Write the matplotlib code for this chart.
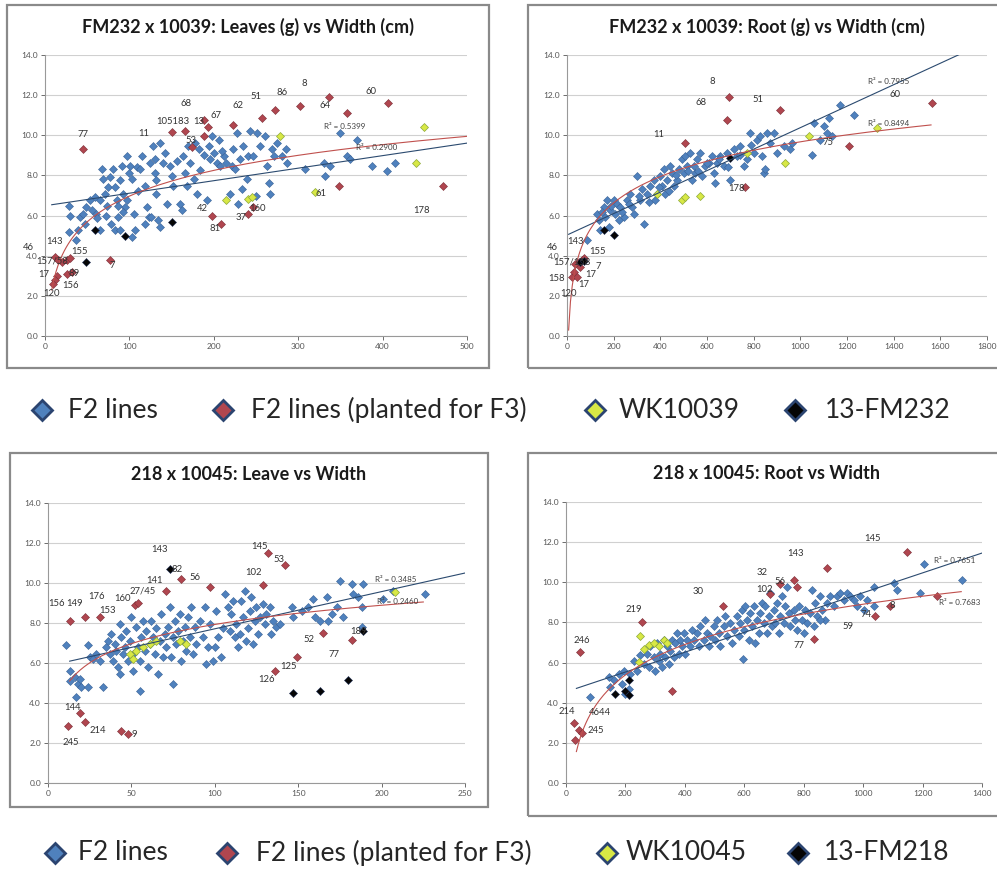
#!/usr/bin/env python3
"""four scatter panels: leaf / root weight vs width, two crosses"""

import matplotlib.pyplot as plt
import numpy as np
from matplotlib.lines import Line2D
from matplotlib.patches import Rectangle

# ---------------- panel 1: FM232 x 10039 leaves vs width ----------------
p1_blue_x = [28, 30, 28, 37, 39, 41, 45, 49, 47, 53, 59, 61, 65, 67, 69, 71, 73, 75, 77, 65,
             81, 83, 85, 87, 89, 91, 93, 95, 83, 89, 97, 99, 101, 103, 105, 107, 103, 109, 97,
             115, 113, 119, 121, 123, 126, 128, 130, 132, 134, 136, 130, 132, 136,
             140, 144, 148, 150, 152, 160, 162, 164, 166, 168, 170,
             172, 176, 180, 182, 184, 192, 194, 196, 198, 200, 204, 206,
             207, 212, 215, 219, 221, 223, 227, 229, 231, 233, 235, 239, 241,
             243, 247, 251, 255, 261, 263, 265, 267, 269, 271, 275, 281, 285, 287,
             308, 330, 332, 338, 350, 358, 361, 370, 387, 405, 415,
             56, 62, 72, 78, 86, 92, 110, 118, 125, 142, 156, 178, 188, 210, 225, 250]
p1_blue_y = [6.5, 6.0, 5.2, 4.8, 5.3, 5.95, 6.1, 6.45, 5.6, 6.8, 6.95, 6.1, 5.3, 8.3, 7.8, 7.1, 6.5, 7.4, 7.9, 6.8,
             8.3, 7.4, 6.8, 5.95, 7.75, 8.45, 7.1, 6.45, 5.3, 5.3, 8.95, 8.1, 8.45, 7.8, 6.1, 5.3, 4.95, 8.4, 6.8,
             8.95, 8.3, 7.45, 6.45, 5.95, 5.95, 9.45, 8.1, 7.1, 5.8, 5.45, 8.8, 7.75, 9.6,
             8.6, 6.6, 8.45, 7.95, 7.45, 6.6, 6.3, 8.95, 8.1, 7.45, 9.45,
             8.6, 7.8, 7.1, 9.3, 8.25, 6.8, 9.45, 8.8, 9.95, 9.1, 8.6, 9.75,
             8.45, 8.95, 8.6, 7.1, 8.45, 9.3, 10.1, 6.6, 8.8, 7.3, 9.45, 7.8, 8.95,
             10.2, 8.95, 10.1, 9.45, 9.95, 8.45, 7.6, 7.1, 9.3, 8.95, 9.6, 8.95, 9.3, 8.6,
             8.3, 8.6, 7.95, 8.45, 10.1, 8.95, 8.8, 9.75, 8.45, 8.2, 8.6,
             6.3, 5.9, 6.0, 5.6, 6.5, 6.2, 7.2, 5.6, 8.6, 9.1, 8.7, 9.6, 9.0, 9.2, 8.3, 7.0]
p1_red_x = [45, 150, 166, 188, 188, 193, 223, 257, 273, 302, 337, 407, 358, 348, 472,
            198, 209, 241, 247, 174, 77,
            12, 16, 20, 26, 30, 14, 12, 10, 26, 32]
p1_red_y = [9.3, 10.15, 10.2, 10.75, 9.95, 10.4, 10.5, 10.85, 11.25, 11.45, 11.9, 11.6, 11.1, 7.45, 7.45,
            6.0, 5.6, 6.1, 6.45, 9.4, 3.8,
            3.95, 3.8, 3.7, 3.8, 3.9, 3.0, 2.8, 2.6, 3.1, 3.2]
p1_yel_x = [279, 449, 440, 215, 241, 245, 320]
p1_yel_y = [9.95, 10.4, 8.6, 6.8, 6.85, 6.95, 7.15]
p1_blk_x = [59, 95, 151, 49]
p1_blk_y = [5.3, 5.0, 5.7, 3.7]
p1_lin = (6.49, 0.00624)          # intercept, slope
p1_log = (-1.55, 1.85)            # a + b ln(x)
p1_log_range = (8, 500)
p1_labels = [("77", 38, 9.9), ("11", 110, 9.95), ("105183", 132, 10.55), ("68", 160, 11.45),
             ("13", 176, 10.55), ("67", 196, 10.85), ("62", 222, 11.35), ("51", 244, 11.8),
             ("86", 274, 12.0), ("8", 304, 12.45), ("64", 325, 11.35), ("60", 380, 12.05),
             ("53", 166, 9.6), ("42", 180, 6.25), ("81", 195, 5.25), ("37", 226, 5.8),
             ("160", 242, 6.25), ("61", 320, 7.0), ("178", 436, 6.15), ("7", 76, 3.4),
             ("143", 2, 4.6), ("46", -26, 4.3), ("157/58", -10, 3.6), ("155", 31, 4.1),
             ("17", -8, 2.95), ("156", 20, 2.4), ("120", -2, 2.0), ("89", 28, 3.0)]
p1_r2 = [("R² = 0.5399", 330, 10.3), ("R² = 0.2900", 368, 9.25)]

# ---------------- panel 2: FM232 x 10039 root vs width ----------------
p2_blue_x = [86, 129, 136, 143, 157, 164, 171, 179, 186, 200, 207, 214, 221, 229, 243, 257,
             271, 279, 286, 300, 314, 321, 329, 343, 357, 371, 379, 386, 400, 407, 414, 421, 429,
             443, 450, 457, 471, 479, 493, 500, 507, 514, 529, 536, 543, 550, 557, 571, 579,
             593, 607, 621, 629, 636, 643, 657, 671, 686, 700, 714, 729, 743, 757, 771, 786,
             800, 814, 829, 836, 843, 850, 857, 871, 886, 900, 929, 957, 964,
             1050, 1057, 1100, 1114, 1121, 1136, 1171, 1229, 1086,
             150, 190, 235, 265, 310, 350, 395, 435, 465, 520, 560, 600, 650, 690, 740, 790]
p2_blue_y = [4.8, 6.1, 5.8, 5.3, 6.45, 5.95, 6.8, 5.45, 6.3, 6.8, 6.1, 6.6, 5.8, 6.45, 5.95, 6.8,
             7.1, 6.45, 6.1, 7.95, 6.8, 7.3, 5.6, 7.1, 7.45, 7.75, 6.8, 7.1, 7.95, 7.45, 8.3, 7.1, 7.75,
             8.45, 8.1, 7.45, 7.75, 8.3, 8.8, 8.1, 8.95, 8.45, 9.1, 7.75, 8.45, 8.1, 8.8, 9.1, 7.95,
             8.45, 8.6, 8.95, 8.1, 7.6, 8.6, 8.95, 8.45, 9.1, 7.75, 9.3, 8.95, 9.45, 8.45, 8.8, 10.1,
             9.1, 9.75, 9.95, 8.95, 8.1, 8.3, 10.1, 9.6, 10.1, 9.1, 9.45, 9.3, 9.6,
             9.0, 10.6, 10.45, 10.1, 10.85, 9.95, 11.5, 11.0, 9.75,
             6.2, 6.5, 6.2, 6.6, 7.0, 6.7, 7.4, 7.2, 8.0, 8.2, 8.2, 8.6, 8.8, 8.4, 9.0, 9.5]
p2_red_x = [693, 686, 911, 504, 1207, 1564, 764,
            21, 29, 43, 36, 50, 64, 71, 57]
p2_red_y = [11.9, 10.75, 11.25, 9.6, 9.45, 11.6, 7.4,
            2.95, 3.2, 2.95, 3.6, 3.7, 3.8, 3.9, 3.45]
p2_yel_x = [493, 507, 571, 386, 771, 936, 1036, 1329]
p2_yel_y = [6.8, 6.95, 7.0, 7.1, 9.1, 8.6, 9.95, 10.35]
p2_blk_x = [57, 71, 200, 157, 700]
p2_blk_y = [3.7, 3.75, 5.05, 5.3, 8.85]
p2_lin = (5.03, 0.00535)
p2_log = (-3.38, 1.89)
p2_log_range = (7, 1560)
p2_labels = [("8", 610, 12.55), ("68", 550, 11.5), ("51", 795, 11.65), ("11", 370, 9.9),
             ("60", 1380, 11.9), ("178", 690, 7.2), ("75", 1095, 9.5),
             ("143", 0, 4.6), ("46", -88, 4.3), ("157/158", -58, 3.55), ("155", 95, 4.1),
             ("7", 122, 3.35), ("17", 78, 2.95), ("17", 50, 2.45), ("158", -80, 2.75), ("120", -28, 2.0)]
p2_r2 = [("R² = 0.7955", 1290, 12.55), ("R² = 0.8494", 1290, 10.45)]

# ---------------- panel 3: 218 x 10045 leave vs width ----------------
p3_blue_x = [11, 13, 13, 16, 18, 17, 20, 19, 24, 24, 25, 27, 29, 33, 31,
             35, 36, 37, 38, 39, 40, 41, 42, 43, 43, 44, 45, 46, 47, 48, 49, 50, 51, 51, 53, 54, 55, 55,
             56, 57, 58, 59, 60, 61, 62,
             63, 64, 65, 66, 67, 68, 69, 70, 71, 72, 73, 74, 75, 75, 76, 77, 78, 79, 80, 81, 82, 83, 84,
             85, 86, 87, 88, 89, 91, 93, 94, 95, 96, 97, 99, 100, 101, 102, 104, 105,
             106, 108, 109, 110, 111, 112, 113, 114, 115, 116, 117, 118, 119, 120, 121, 122, 123, 124,
             125, 126, 127, 129, 130, 131, 133, 134, 135, 137, 139,
             146, 147, 152, 156, 159, 160, 163, 167, 168, 170, 173, 175, 177, 182, 183, 186, 188, 189,
             201, 207, 226, 188]
p3_blue_y = [6.9, 5.6, 5.1, 5.3, 4.95, 4.3, 4.8, 5.2, 6.9, 4.8, 6.3, 6.2, 6.45, 4.8, 6.1,
             6.8, 7.1, 6.45, 7.45, 6.1, 6.95, 6.6, 5.8, 7.95, 5.45, 7.3, 6.45, 6.8, 7.6, 6.1, 7.1, 8.3,
             6.45, 5.6, 7.8, 6.8, 6.1, 4.6, 7.3, 8.1, 6.6, 7.6, 5.8, 6.95, 8.1,
             7.3, 6.45, 7.75, 5.45, 7.1, 8.45, 6.3, 7.45, 6.8, 7.8, 8.8, 6.3, 7.3, 4.95, 8.1, 6.95, 7.6,
             8.45, 6.1, 7.1, 7.8, 6.6, 8.3, 7.3, 8.8, 6.45, 7.8, 6.95, 8.1, 7.3, 8.8, 5.95, 6.8, 7.95,
             6.1, 6.8, 8.6, 7.3, 6.3, 7.75,
             9.45, 8.8, 7.6, 8.45, 9.1, 7.3, 7.95, 6.8, 7.45, 9.1, 8.3, 9.6, 7.1, 7.75, 8.6, 9.3, 6.95,
             8.1, 8.8, 7.45, 8.3, 8.95, 7.95, 8.45, 8.8, 7.45, 8.1, 7.8, 7.95,
             8.8, 8.3, 8.6, 8.8, 9.2, 8.3, 8.1, 9.3, 8.1, 8.45, 8.8, 10.1, 8.3, 9.95, 9.45, 9.3, 8.8, 9.95,
             9.2, 9.6, 9.45, 7.8]
p3_red_x = [13, 22, 31, 52, 54, 71, 80, 97, 129, 132, 142, 165, 182, 149, 136,
            12, 19, 22, 44, 48]
p3_red_y = [8.1, 8.3, 8.3, 8.9, 9.0, 9.6, 10.2, 9.8, 9.9, 11.5, 10.9, 7.5, 7.15, 6.3, 5.6,
            2.85, 3.5, 3.05, 2.6, 2.45]
p3_yel_x = [49, 53, 57, 61, 65, 51, 79, 83, 208]
p3_yel_y = [6.45, 6.6, 6.8, 6.95, 7.1, 6.2, 7.1, 6.95, 9.55]
p3_blk_x = [147, 163, 180, 73, 189]
p3_blk_y = [4.5, 4.6, 5.15, 10.7, 7.6]
p3_lin = (5.85, 0.0186)
p3_log = (1.545, 1.386)
p3_log_range = (13, 225)
p3_labels = [("156", 0, 8.85), ("149", 11, 8.85), ("176", 24, 9.2), ("153", 31, 8.5),
             ("160", 40, 9.1), ("27/45", 49, 9.5), ("141", 59, 10.0), ("143", 62, 11.55),
             ("82", 74, 10.55), ("56", 85, 10.15), ("102", 118, 10.4), ("145", 122, 11.7),
             ("53", 135, 11.05), ("52", 153, 7.05), ("125", 139, 5.7), ("126", 126, 5.05),
             ("77", 168, 6.3), ("189", 181, 7.45), ("144", 10, 3.65), ("245", 9, 1.9),
             ("214", 25, 2.5), ("9", 50, 2.3)]
p3_r2 = [("R² = 0.3485", 196, 10.05), ("R² = 0.2460", 197, 8.95)]

# ---------------- panel 4: 218 x 10045 root vs width ----------------
p4_blue_x = [82, 144, 149, 160, 177, 189, 194, 200, 211, 216, 228, 240, 250, 261, 272, 278, 284,
             295, 301, 306, 312, 317, 323, 329, 334, 340, 345, 351, 357, 362, 368, 374, 379, 385,
             390, 396, 402, 407, 418, 424, 430, 441, 446, 452, 463, 469, 475, 480, 486, 497,
             503, 508, 514, 519, 531, 536, 542, 553, 559, 564, 575, 581, 587, 592, 598, 596, 603,
             609, 615, 620, 626, 632, 637, 643, 648, 654, 660, 665, 671, 676, 682, 688, 693, 699,
             704, 710, 716, 721, 727, 733, 738, 744, 749, 755,
             766, 772, 777, 783, 794, 800, 805, 811, 822, 828, 833, 839, 845, 856, 862, 873, 878,
             890, 901, 912, 923, 934, 946, 957, 968, 979, 991, 1002, 1013, 1035, 1035, 1103, 1114,
             1192, 1204, 1333, 856]
p4_blue_y = [4.3, 5.3, 4.8, 5.15, 5.45, 4.95, 5.6, 4.45, 4.7, 5.45, 6.1, 5.6, 6.4, 5.95, 6.45, 5.8, 6.8,
             6.3, 5.6, 6.95, 6.1, 6.45, 5.8, 7.1, 6.3, 6.8, 5.95, 6.6, 7.1, 6.3, 6.95, 7.45, 6.45, 7.1,
             6.8, 7.45, 6.45, 7.1, 6.8, 7.6, 7.1, 7.45, 6.8, 7.8, 7.1, 8.1, 7.45, 6.8, 7.3, 7.8,
             7.1, 8.1, 7.45, 6.8, 7.8, 8.3, 7.3, 7.95, 6.95, 7.6, 8.3, 7.3, 7.95, 8.6, 7.6, 6.2, 8.8,
             8.1, 7.1, 8.45, 7.8, 8.8, 6.95, 8.1, 7.45, 8.45, 8.95, 7.95, 8.8, 7.45, 8.3, 9.45, 7.8, 8.6,
             7.95, 8.95, 7.45, 8.3, 9.3, 7.95, 8.8, 9.75, 8.45, 7.8,
             8.6, 8.1, 7.6, 8.8, 8.1, 7.45, 8.6, 7.95, 8.45, 9.6, 7.8, 8.95, 8.3, 9.3, 8.6, 8.1, 8.95,
             9.3, 8.8, 9.3, 9.45, 9.1, 9.45, 9.3, 9.1, 8.8, 9.3, 8.6, 9.1, 9.75, 8.8, 9.95, 9.6,
             9.45, 10.9, 10.1, 8.1]
p4_red_x = [48, 256, 357, 528, 721, 688, 766, 777, 878, 833, 1041, 1091, 1148, 1248,
            26, 43, 54, 31]
p4_red_y = [6.55, 8.0, 4.6, 8.8, 9.9, 9.4, 10.1, 9.75, 10.7, 7.15, 8.3, 8.8, 11.5, 9.3,
            3.0, 2.65, 2.5, 2.15]
p4_yel_x = [261, 278, 295, 312, 329, 340, 245, 250]
p4_yel_y = [6.7, 6.85, 6.95, 6.8, 7.1, 6.95, 6.05, 7.3]
p4_blk_x = [166, 200, 211, 211]
p4_blk_y = [4.45, 4.6, 5.15, 4.4]
p4_lin = (4.54, 0.00494)
p4_log = (-6.22, 2.19)
p4_log_range = (35, 1330)
p4_labels = [("246", 26, 6.95), ("219", 200, 8.5), ("30", 425, 9.4), ("32", 640, 10.35),
             ("56", 700, 9.9), ("102", 640, 9.5), ("143", 745, 11.3), ("145", 1005, 12.05),
             ("8", 1088, 8.7), ("74", 990, 8.25), ("59", 930, 7.65), ("77", 765, 6.75),
             ("214", -25, 3.45), ("4644", 78, 3.4), ("245", 72, 2.5)]
p4_r2 = [("R² = 0.7651", 1240, 10.95), ("R² = 0.7683", 1255, 8.85)]

titles = ["FM232 x 10039: Leaves (g) vs Width (cm)", "FM232 x 10039: Root (g) vs Width (cm)",
          "218 x 10045: Leave vs Width", "218 x 10045: Root vs Width"]
legend_top = ["F2 lines", "F2 lines (planted for F3)", "WK10039", "13-FM232"]
legend_bottom = ["F2 lines", "F2 lines (planted for F3)", "WK10045", "13-FM218"]

BLUE, BLUE_E = "#4F81BD", "#3A6397"
RED, RED_E = "#B0464F", "#7A2E36"
YEL, YEL_E = "#D8E845", "#8CA83A"
BLK, BLK_E = "#050505", "#1F2F55"
FONT = "Lato"
W, H = 997, 873


def panel(ax, bx, by, rx, ry, yx, yy, kx, ky, lin, logp, log_range, labels, r2s, xmax, xstep):
    ax.plot(bx, by, "D", ms=4.2, mfc=BLUE, mec=BLUE_E, mew=0.4, zorder=3)
    ax.plot(rx, ry, "D", ms=4.2, mfc=RED, mec=RED_E, mew=0.4, zorder=4)
    ax.plot(yx, yy, "D", ms=4.5, mfc=YEL, mec=YEL_E, mew=0.5, zorder=4)
    ax.plot(kx, ky, "D", ms=4.2, mfc=BLK, mec=BLK_E, mew=0.4, zorder=4)

    # trend lines: linear for all lines, log for planted lines
    xl = np.array([log_range[0], xmax])
    ax.plot(xl, lin[0] + lin[1] * xl, color="#2B4A6F", lw=0.8, zorder=5)
    xs = np.linspace(log_range[0], log_range[1], 200)
    ax.plot(xs, logp[0] + logp[1] * np.log(xs), color="#C0504D", lw=0.8, zorder=5)

    for txt, x, y in labels:
        ax.text(x, y, txt, fontsize=6.8, color="#333333", family=FONT, zorder=6,
                clip_on=False)
    for txt, x, y in r2s:
        ax.text(x, y, txt, fontsize=5.8, color="#404040", family=FONT, zorder=6)

    ax.set_xlim(0, xmax)
    ax.set_ylim(0, 14)
    ax.set_xticks(np.arange(0, xmax + 1, xstep))
    ax.set_yticks(np.arange(0, 15, 2))
    ax.set_yticklabels([f"{v:.1f}" for v in np.arange(0, 15, 2)])
    ax.tick_params(labelsize=6, colors="#555555", length=3, width=0.6, pad=2)
    ax.grid(axis="y", color="#D0D0D0", lw=0.8)
    ax.set_axisbelow(True)
    for s in ("top", "right"):
        ax.spines[s].set_visible(False)
    for s in ("left", "bottom"):
        ax.spines[s].set_color("#999999")
        ax.spines[s].set_linewidth(0.8)
    for lab in ax.get_xticklabels() + ax.get_yticklabels():
        lab.set_family(FONT)


def legend_row(fig, names, y_px, marker_px, text_px):
    fills = [BLUE, RED, YEL, BLK]
    y = 1 - y_px / H
    for name, c, mx, tx in zip(names, fills, marker_px, text_px):
        fig.add_artist(Line2D([mx / W], [y], ls="", marker="D", ms=10, mfc=c,
                              mec="#2B4470", mew=2.0, transform=fig.transFigure))
        fig.text(tx / W, y, name, ha="left", va="center", fontsize=19,
                 family=FONT, color="#262626")


def main() -> None:
    fig = plt.figure(figsize=(W / 100, H / 100), dpi=100)

    # chart-area frames
    for x0, y0, w, h in [(0.007, 0.5785, 0.4835, 0.4158), (0.5296, 0.5785, 0.48, 0.4158),
                         (0.010, 0.0756, 0.4795, 0.4055), (0.5296, 0.0654, 0.48, 0.4157)]:
        fig.patches.append(Rectangle((x0, y0), w, h, transform=fig.transFigure,
                                     fill=False, ec="#8A8A8A", lw=1.6))

    ax1 = fig.add_axes([0.0451, 0.6151, 0.4233, 0.3219])
    ax2 = fig.add_axes([0.5687, 0.6151, 0.4213, 0.3219])
    ax3 = fig.add_axes([0.0481, 0.1031, 0.4183, 0.3207])
    ax4 = fig.add_axes([0.5677, 0.1031, 0.4173, 0.3219])

    panel(ax1, p1_blue_x, p1_blue_y, p1_red_x, p1_red_y, p1_yel_x, p1_yel_y, p1_blk_x, p1_blk_y,
          p1_lin, p1_log, p1_log_range, p1_labels, p1_r2, 500, 100)
    panel(ax2, p2_blue_x, p2_blue_y, p2_red_x, p2_red_y, p2_yel_x, p2_yel_y, p2_blk_x, p2_blk_y,
          p2_lin, p2_log, p2_log_range, p2_labels, p2_r2, 1800, 200)
    panel(ax3, p3_blue_x, p3_blue_y, p3_red_x, p3_red_y, p3_yel_x, p3_yel_y, p3_blk_x, p3_blk_y,
          p3_lin, p3_log, p3_log_range, p3_labels, p3_r2, 250, 50)
    panel(ax4, p4_blue_x, p4_blue_y, p4_red_x, p4_red_y, p4_yel_x, p4_yel_y, p4_blk_x, p4_blk_y,
          p4_lin, p4_log, p4_log_range, p4_labels, p4_r2, 1400, 200)

    for (x, y), t in zip([(0.249, 0.969), (0.769, 0.969), (0.249, 0.456), (0.769, 0.458)], titles):
        fig.text(x, y, t, ha="center", va="center", fontsize=13, weight="bold",
                 family=FONT, color="#1A1A1A")

    legend_row(fig, legend_top, 410, [42, 223, 595, 795], [68, 251, 619, 825])
    legend_row(fig, legend_bottom, 853, [55, 227, 607, 798], [78, 256, 626, 824])

    fig.savefig("out.png", dpi=100)


if __name__ == "__main__":
    main()
